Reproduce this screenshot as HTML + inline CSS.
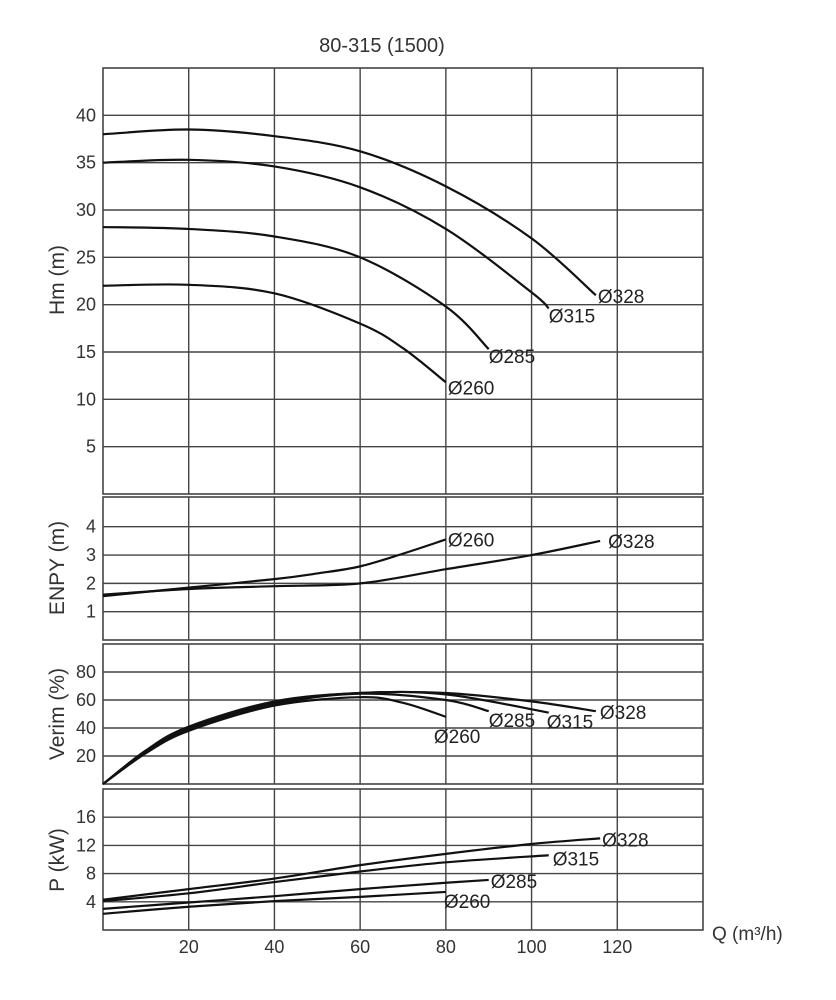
<!DOCTYPE html>
<html><head><meta charset="utf-8"><style>
html,body{margin:0;padding:0;background:#fff;}
svg{display:block;font-family:"Liberation Sans","DejaVu Sans",sans-serif;}
</style></head><body>
<svg id="chart" width="836" height="1000" viewBox="0 0 836 1000" xmlns="http://www.w3.org/2000/svg">
<text x="382" y="52" text-anchor="middle" font-size="20" fill="#333">80-315 (1500)</text>
<g id="grid"></g><g id="curves"></g><g id="labels"></g>
<text x="712" y="940" font-size="19" fill="#333">Q (m³/h)</text>
</svg>
<script>
const xTicks = [20, 40, 60, 80, 100, 120];
const headTicks = [5, 10, 15, 20, 25, 30, 35, 40];
const npshTicks = [1, 2, 3, 4];
const effTicks = [20, 40, 60, 80];
const powerTicks = [4, 8, 12, 16];

const headQ328 = [0, 20, 40, 60, 80, 100, 115];
const headH328 = [38, 38.5, 37.8, 36.2, 32.5, 27, 21];
const headQ315 = [0, 20, 40, 60, 80, 100, 104];
const headH315 = [35, 35.3, 34.6, 32.4, 28, 21.3, 19.6];
const headQ285 = [0, 20, 40, 60, 80, 90];
const headH285 = [28.2, 28, 27.2, 25, 19.8, 15.3];
const headQ260 = [0, 20, 40, 60, 70, 80];
const headH260 = [22, 22.1, 21.2, 18, 15.4, 11.8];

const npshQ260 = [0, 20, 40, 50, 60, 70, 80];
const npshV260 = [1.55, 1.85, 2.15, 2.35, 2.6, 3.05, 3.55];
const npshQ328 = [0, 20, 40, 60, 80, 100, 116];
const npshV328 = [1.6, 1.8, 1.9, 2.0, 2.5, 3.0, 3.5];

const effQ260 = [0, 10, 20, 40, 60, 70, 80];
const effV260 = [0, 22, 38, 56, 62, 58, 48];
const effQ285 = [0, 10, 20, 40, 60, 80, 90];
const effV285 = [0, 23, 39, 57, 64.5, 60, 52];
const effQ315 = [0, 10, 20, 40, 60, 80, 104];
const effV315 = [0, 23.5, 40, 58, 65, 64, 51];
const effQ328 = [0, 10, 20, 40, 60, 80, 100, 115];
const effV328 = [0, 24, 41, 59, 65, 65, 59, 52];

const powQ328 = [0, 20, 40, 60, 80, 100, 116];
const powV328 = [4.3, 5.8, 7.3, 9.2, 10.8, 12.2, 13];
const powQ315 = [0, 20, 40, 60, 80, 104];
const powV315 = [4.1, 5.2, 6.8, 8.3, 9.6, 10.6];
const powQ285 = [0, 20, 40, 60, 80, 90];
const powV285 = [3, 3.9, 4.8, 5.8, 6.7, 7.1];
const powQ260 = [0, 20, 40, 60, 80];
const powV260 = [2.3, 3.3, 4.1, 4.7, 5.4];

const NS = "http://www.w3.org/2000/svg";
const X0 = 103, X1 = 703, QMAX = 140;
const xs = q => X0 + q / QMAX * (X1 - X0);
const panels = {
  head: {top: 68, bottom: 494, max: 45, ticks: headTicks, title: "Hm (m)", ty: 280},
  npsh: {top: 497, bottom: 640, max: 5.05, ticks: npshTicks, title: "ENPY (m)", ty: 568},
  eff:  {top: 644, bottom: 784, max: 100, ticks: effTicks, title: "Verim (%)", ty: 714},
  pow:  {top: 789, bottom: 930, max: 20, ticks: powerTicks, title: "P (kW)", ty: 860}
};
function ys(p, v){ return p.bottom - v / p.max * (p.bottom - p.top); }
function mk(tag, attrs, parent){ const e = document.createElementNS(NS, tag); for (const k in attrs) e.setAttribute(k, attrs[k]); parent.appendChild(e); return e; }
const grid = document.getElementById('grid'), curves = document.getElementById('curves'), labels = document.getElementById('labels');

for (const key in panels) {
  const p = panels[key];
  const r = mk('rect', {x: X0, y: p.top, width: X1 - X0, height: p.bottom - p.top, fill: 'none', stroke: '#444', 'stroke-width': 1.6}, grid);
  
  
  xTicks.forEach(t => {
    const l = mk('line', {x1: xs(t), x2: xs(t), y1: p.top, y2: p.bottom, stroke: '#444', 'stroke-width': 1.4}, grid);
    
    
  });
  p.ticks.forEach(t => {
    const y = ys(p, t);
    const l = mk('line', {x1: X0, x2: X1, y1: y, y2: y, stroke: '#444', 'stroke-width': 1.4}, grid);
    
    
    const tx = mk('text', {x: 96, y: y + 6, 'text-anchor': 'end', 'font-size': 18, fill: '#333'}, grid);
    tx.textContent = t;
    
    
  });
  const tt = mk('text', {x: 0, y: 0, 'text-anchor': 'middle', 'font-size': 21, fill: '#333', transform: `translate(64 ${p.ty}) rotate(-90)`}, grid);
  tt.textContent = p.title;
  
  
}
xTicks.forEach(t => {
  const tx = mk('text', {x: xs(t), y: 953, 'text-anchor': 'middle', 'font-size': 18, fill: '#333'}, grid);
  tx.textContent = t;
  
  
});

function pathD(pts){
  let d = `M${pts[0][0]},${pts[0][1]}`;
  for (let i = 0; i < pts.length - 1; i++) {
    const p0 = pts[i - 1] || pts[i], p1 = pts[i], p2 = pts[i + 1], p3 = pts[i + 2] || p2;
    const c1 = [p1[0] + (p2[0] - p0[0]) / 6, p1[1] + (p2[1] - p0[1]) / 6];
    const c2 = [p2[0] - (p3[0] - p1[0]) / 6, p2[1] - (p3[1] - p1[1]) / 6];
    d += ` C${c1[0]},${c1[1]} ${c2[0]},${c2[1]} ${p2[0]},${p2[1]}`;
  }
  return d;
}
function curve(panelKey, qs, vs, name, label, dx, dy){
  const p = panels[panelKey];
  const pts = qs.map((q, i) => [xs(q), ys(p, vs[i])]);
  const path = mk('path', {d: pathD(pts), fill: 'none', stroke: '#111', 'stroke-width': 2.2}, curves);
  
  
  const last = pts[pts.length - 1];
  const t = mk('text', {x: last[0] + dx, y: last[1] + dy, 'font-size': 19, fill: '#222'}, labels);
  t.textContent = label;
  
  
}
curve('head', headQ328, headH328, 'head-curve-328', 'Ø328', 2, 8);
curve('head', headQ315, headH315, 'head-curve-315', 'Ø315', 0, 14);
curve('head', headQ285, headH285, 'head-curve-285', 'Ø285', 0, 14);
curve('head', headQ260, headH260, 'head-curve-260', 'Ø260', 2, 12);
curve('npsh', npshQ260, npshV260, 'npsh-curve-260', 'Ø260', 2, 7);
curve('npsh', npshQ328, npshV328, 'npsh-curve-328', 'Ø328', 8, 7);
curve('eff', effQ260, effV260, 'eff-curve-260', 'Ø260', -12, 26);
curve('eff', effQ285, effV285, 'eff-curve-285', 'Ø285', 0, 16);
curve('eff', effQ315, effV315, 'eff-curve-315', 'Ø315', -2, 16);
curve('eff', effQ328, effV328, 'eff-curve-328', 'Ø328', 4, 8);
curve('pow', powQ328, powV328, 'power-curve-328', 'Ø328', 2, 8);
curve('pow', powQ315, powV315, 'power-curve-315', 'Ø315', 4, 10);
curve('pow', powQ285, powV285, 'power-curve-285', 'Ø285', 2, 8);
curve('pow', powQ260, powV260, 'power-curve-260', 'Ø260', -2, 16);
</script>
</body></html>
